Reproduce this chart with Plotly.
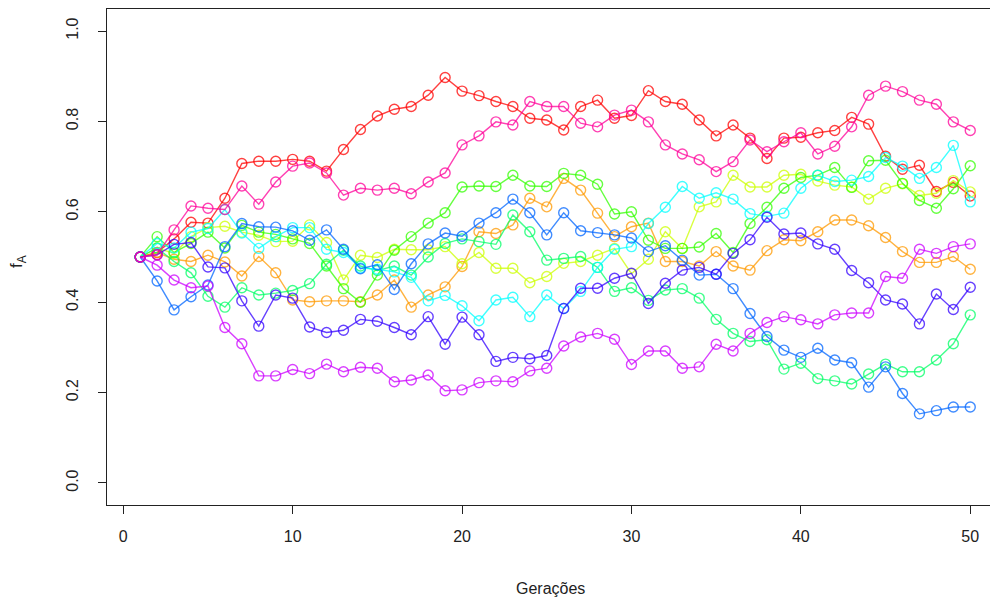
import plotly.graph_objects as go

# Generations 1..50 and allele-A frequency for ten drift simulations
geracoes = list(range(1, 51))

f_red = [0.50, 0.51, 0.54, 0.577, 0.575, 0.63, 0.707, 0.712, 0.712, 0.716,
         0.712, 0.69, 0.738, 0.782, 0.812, 0.827, 0.833, 0.858, 0.897, 0.867,
         0.857, 0.844, 0.833, 0.807, 0.803, 0.781, 0.833, 0.847, 0.807, 0.813,
         0.868, 0.844, 0.838, 0.803, 0.768, 0.792, 0.763, 0.718, 0.763, 0.765,
         0.775, 0.780, 0.809, 0.794, 0.723, 0.694, 0.703, 0.645, 0.665, 0.635]

f_orange = [0.50, 0.51, 0.495, 0.49, 0.504, 0.489, 0.458, 0.501, 0.465, 0.405,
            0.401, 0.403, 0.403, 0.401, 0.416, 0.449, 0.389, 0.416, 0.434, 0.479,
            0.556, 0.552, 0.571, 0.630, 0.611, 0.674, 0.648, 0.597, 0.545, 0.567,
            0.575, 0.490, 0.490, 0.480, 0.512, 0.480, 0.471, 0.514, 0.538, 0.536,
            0.556, 0.582, 0.582, 0.569, 0.543, 0.512, 0.488, 0.488, 0.501, 0.473]

f_yellow = [0.50, 0.52, 0.508, 0.545, 0.565, 0.568, 0.555, 0.548, 0.534, 0.535,
            0.571, 0.532, 0.449, 0.504, 0.499, 0.517, 0.516, 0.516, 0.523, 0.485,
            0.510, 0.475, 0.475, 0.443, 0.457, 0.486, 0.490, 0.504, 0.519, 0.463,
            0.495, 0.556, 0.519, 0.611, 0.622, 0.681, 0.655, 0.655, 0.681, 0.683,
            0.668, 0.659, 0.655, 0.628, 0.652, 0.662, 0.636, 0.641, 0.669, 0.644]

f_green = [0.50, 0.545, 0.51, 0.53, 0.555, 0.52, 0.57, 0.555, 0.55, 0.54,
           0.53, 0.48, 0.43, 0.40, 0.46, 0.515, 0.545, 0.575, 0.598, 0.655,
           0.657, 0.656, 0.681, 0.657, 0.656, 0.685, 0.681, 0.661, 0.595, 0.600,
           0.537, 0.519, 0.519, 0.522, 0.552, 0.510, 0.574, 0.610, 0.652, 0.676,
           0.681, 0.698, 0.654, 0.713, 0.714, 0.663, 0.625, 0.608, 0.651, 0.702]

f_teal = [0.50, 0.52, 0.49, 0.465, 0.413, 0.389, 0.432, 0.416, 0.42, 0.426,
          0.441, 0.484, 0.515, 0.48, 0.47, 0.48, 0.46, 0.50, 0.53, 0.54,
          0.534, 0.528, 0.593, 0.556, 0.493, 0.497, 0.501, 0.477, 0.424, 0.432,
          0.404, 0.427, 0.430, 0.409, 0.362, 0.331, 0.313, 0.317, 0.252, 0.265,
          0.231, 0.226, 0.219, 0.241, 0.263, 0.246, 0.246, 0.272, 0.308, 0.372]

f_cyan = [0.50, 0.53, 0.52, 0.555, 0.563, 0.605, 0.553, 0.519, 0.545, 0.565,
          0.565, 0.517, 0.510, 0.476, 0.473, 0.467, 0.455, 0.403, 0.415, 0.392,
          0.359, 0.405, 0.411, 0.368, 0.416, 0.386, 0.424, 0.477, 0.517, 0.523,
          0.574, 0.610, 0.656, 0.630, 0.642, 0.628, 0.596, 0.590, 0.597, 0.652,
          0.681, 0.667, 0.670, 0.678, 0.720, 0.701, 0.674, 0.698, 0.747, 0.622]

f_blue = [0.50, 0.447, 0.383, 0.412, 0.438, 0.523, 0.574, 0.567, 0.566, 0.558,
          0.537, 0.560, 0.517, 0.474, 0.483, 0.428, 0.485, 0.529, 0.553, 0.546,
          0.575, 0.598, 0.628, 0.598, 0.549, 0.598, 0.558, 0.554, 0.549, 0.542,
          0.512, 0.525, 0.493, 0.460, 0.462, 0.430, 0.375, 0.324, 0.294, 0.278,
          0.298, 0.272, 0.266, 0.212, 0.257, 0.198, 0.153, 0.160, 0.168, 0.168]

f_indigo = [0.50, 0.505, 0.528, 0.532, 0.478, 0.476, 0.403, 0.347, 0.416, 0.409,
            0.345, 0.333, 0.338, 0.362, 0.358, 0.344, 0.328, 0.368, 0.307, 0.367,
            0.328, 0.269, 0.278, 0.275, 0.282, 0.386, 0.431, 0.431, 0.453, 0.464,
            0.397, 0.442, 0.471, 0.477, 0.462, 0.508, 0.538, 0.588, 0.551, 0.553,
            0.529, 0.517, 0.470, 0.443, 0.405, 0.396, 0.352, 0.418, 0.384, 0.433]

f_purple = [0.50, 0.482, 0.449, 0.432, 0.436, 0.344, 0.308, 0.237, 0.237, 0.251,
            0.242, 0.263, 0.246, 0.256, 0.254, 0.224, 0.228, 0.239, 0.204, 0.206,
            0.222, 0.226, 0.224, 0.248, 0.254, 0.303, 0.323, 0.331, 0.318, 0.262,
            0.292, 0.292, 0.254, 0.257, 0.307, 0.292, 0.331, 0.355, 0.368, 0.361,
            0.352, 0.372, 0.376, 0.376, 0.457, 0.453, 0.517, 0.508, 0.523, 0.529]

f_pink = [0.50, 0.505, 0.56, 0.613, 0.608, 0.605, 0.657, 0.617, 0.666, 0.701,
          0.708, 0.686, 0.637, 0.652, 0.648, 0.652, 0.64, 0.666, 0.686, 0.748,
          0.768, 0.799, 0.792, 0.844, 0.833, 0.833, 0.796, 0.788, 0.814, 0.825,
          0.799, 0.748, 0.728, 0.715, 0.689, 0.711, 0.759, 0.733, 0.755, 0.775,
          0.728, 0.745, 0.788, 0.858, 0.878, 0.866, 0.847, 0.838, 0.799, 0.780]

series = [f_red, f_orange, f_yellow, f_green, f_teal,
          f_cyan, f_blue, f_indigo, f_purple, f_pink]

# rainbow palette (10 hues) with some transparency
colors = ["rgba(255,0,0,0.75)", "rgba(255,153,0,0.75)", "rgba(204,255,0,0.75)",
          "rgba(51,255,0,0.75)", "rgba(0,255,102,0.75)", "rgba(0,255,255,0.75)",
          "rgba(0,102,255,0.75)", "rgba(51,0,255,0.75)", "rgba(204,0,255,0.75)",
          "rgba(255,0,153,0.75)"]

x_ticks = [0, 10, 20, 30, 40, 50]
y_ticks = [0.0, 0.2, 0.4, 0.6, 0.8, 1.0]
y_labels = ["0.0", "0.2", "0.4", "0.6", "0.8", "1.0"]

FONT = "Liberation Sans, Arial, Helvetica, sans-serif"
INK = "#222222"

fig = go.Figure()
for vals, col in zip(series, colors):
    fig.add_trace(go.Scatter(
        x=geracoes, y=vals, mode="lines+markers",
        line=dict(color=col, width=1.4),
        marker=dict(symbol="circle-open", size=10, color=col,
                    line=dict(color=col, width=1.4)),
        showlegend=False, hoverinfo="skip"))

L, T, B = 107, 9, 94
W, H = 990, 599
plot_w = W - L
plot_h = H - T - B
px_per_gen = 16.94
y_pad_low, y_pad_high = 0.0487, 0.0487

fig.update_layout(
    width=W, height=H,
    margin=dict(l=L, r=0, t=T, b=B, pad=0),
    paper_bgcolor="white", plot_bgcolor="white",
    font=dict(family=FONT, size=16, color=INK),
    xaxis=dict(range=[-0.96, -0.96 + plot_w / px_per_gen],
               tickvals=x_ticks, ticks="outside", ticklen=8, tickwidth=1,
               tickcolor=INK, showline=True, linecolor=INK, linewidth=1,
               mirror=True, showgrid=False, zeroline=False,
               ticklabelstandoff=9, tickfont=dict(size=16, color=INK)),
    yaxis=dict(range=[-y_pad_low, 1 + y_pad_high], tickvals=y_ticks,
               ticktext=y_labels, tickangle=-90, ticks="outside", ticklen=8,
               tickwidth=1, tickcolor=INK, showline=True, linecolor=INK,
               linewidth=1, mirror=False, showgrid=False, zeroline=False,
               ticklabelstandoff=14, tickfont=dict(size=16, color=INK)),
    annotations=[
        dict(text="Gerações", xref="paper", yref="paper",
             x=(550 - L) / plot_w, y=(H - B - 588) / plot_h,
             xanchor="center", yanchor="middle", showarrow=False,
             font=dict(size=16, color=INK)),
        dict(text="f<sub>A</sub>", xref="paper", yref="paper",
             x=(18 - L) / plot_w, y=(H - B - 262) / plot_h,
             xanchor="center", yanchor="middle", textangle=-90,
             showarrow=False, font=dict(size=17, color=INK)),
    ],
)

fig.write_html("out.html")
